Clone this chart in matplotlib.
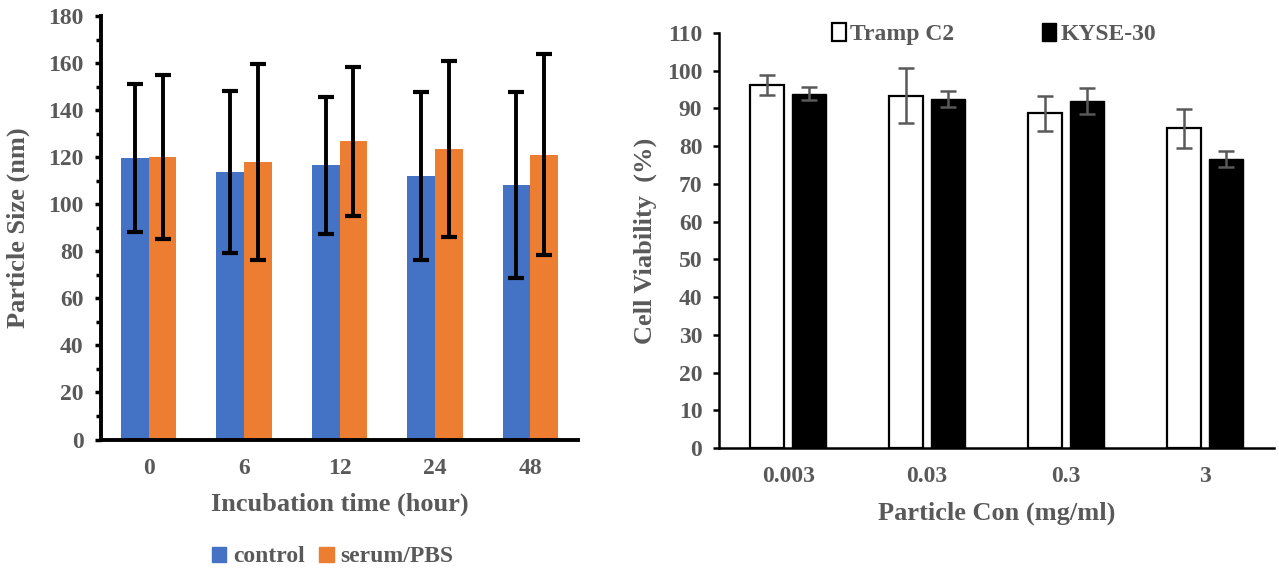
import matplotlib
matplotlib.use('Agg')
import matplotlib.pyplot as plt
import numpy as np
from matplotlib.patches import Patch

# Left panel: particle size over incubation time
TIMES = ['0', '6', '12', '24', '48']
CONTROL = [119.6, 113.6, 116.5, 111.9, 108.1]
CONTROL_ERR = [31.4, 34.4, 29.2, 35.8, 39.6]
SERUM = [120.1, 117.9, 126.7, 123.4, 121.1]
SERUM_ERR = [34.9, 41.5, 31.8, 37.3, 42.7]

# Right panel: cell viability vs particle concentration
CONCS = ['0.003', '0.03', '0.3', '3']
TRAMP = [96.2, 93.4, 88.7, 84.7]
TRAMP_ERR = [2.6, 7.2, 4.7, 5.1]
KYSE = [93.9, 92.5, 91.9, 76.5]
KYSE_ERR = [1.7, 2.2, 3.4, 2.1]

TEXT = '#595959'
W, H = 1279, 573

plt.rcParams['font.family'] = 'Liberation Serif'
plt.rcParams['font.weight'] = 'bold'

fig = plt.figure(figsize=(W / 100, H / 100), dpi=100)


def px_axes(x0, x1, y_top, y_bot):
    return fig.add_axes([x0 / W, 1 - y_bot / H, (x1 - x0) / W, (y_bot - y_top) / H])


# ---------- left panel ----------
ax1 = px_axes(101, 578, 16, 439.5)
x = np.arange(len(TIMES))
bw = 0.29
ax1.bar(x - bw / 2, CONTROL, bw, color='#4472C4', zorder=2)
ax1.bar(x + bw / 2, SERUM, bw, color='#ED7D31', zorder=2)
ax1.errorbar(x - bw / 2, CONTROL, yerr=CONTROL_ERR, fmt='none', ecolor='black',
             elinewidth=2.8, capsize=6, capthick=3, zorder=3)
ax1.errorbar(x + bw / 2, SERUM, yerr=SERUM_ERR, fmt='none', ecolor='black',
             elinewidth=2.8, capsize=6, capthick=3, zorder=3)
ax1.set_xlim(-0.5, 4.5)
ax1.set_ylim(0, 180)
ax1.set_yticks(np.arange(0, 181, 20))
ax1.set_yticks(np.arange(10, 180, 20), minor=True)
ax1.set_xticks(x)
ax1.set_xticklabels(TIMES)
for s in ['top', 'right']:
    ax1.spines[s].set_visible(False)
ax1.spines['left'].set_linewidth(2.8)
ax1.spines['bottom'].set_linewidth(2.8)
ax1.tick_params(axis='y', which='major', length=4.5, width=2.5, pad=8,
                labelsize=17, labelcolor=TEXT)
ax1.tick_params(axis='y', which='minor', length=3.5, width=2.5)
ax1.tick_params(axis='x', length=0, pad=13, labelsize=17, labelcolor=TEXT)
ax1.set_ylabel('Particle Size (nm)', fontsize=19, color=TEXT, fontweight='bold')
ax1.yaxis.set_label_coords(-0.149, 0.5)
ax1.set_xlabel('Incubation time (hour)', fontsize=19, color=TEXT, fontweight='bold')
ax1.xaxis.set_label_coords(0.5, -0.126)
fig.legend(handles=[Patch(color='#4472C4', label='control'),
                    Patch(color='#ED7D31', label='serum/PBS')],
           loc='center', bbox_to_anchor=(333 / W, 1 - 557 / H), ncol=2,
           frameon=False, fontsize=17, labelcolor=TEXT,
           handlelength=0.6, handleheight=0.6, handletextpad=0.3,
           columnspacing=0.6)

# ---------- right panel ----------
ax2 = px_axes(719, 1274, 33, 448)
x2 = np.arange(len(CONCS))
bw2 = 0.245
off = 0.151
ax2.bar(x2 - off, TRAMP, bw2, color='white', edgecolor='black', linewidth=1.6, zorder=2)
ax2.bar(x2 + off, KYSE, bw2, color='black', edgecolor='black', linewidth=1.0, zorder=2)
ax2.errorbar(x2 - off, TRAMP, yerr=TRAMP_ERR, fmt='none', ecolor=TEXT,
             elinewidth=1.8, capsize=6, capthick=1.8, zorder=3)
ax2.errorbar(x2 + off, KYSE, yerr=KYSE_ERR, fmt='none', ecolor=TEXT,
             elinewidth=1.8, capsize=6, capthick=1.8, zorder=3)
ax2.set_xlim(-0.5, 3.5)
ax2.set_ylim(0, 110)
ax2.set_yticks(np.arange(0, 111, 10))
ax2.set_xticks(x2)
ax2.set_xticklabels(CONCS)
for s in ['top', 'right']:
    ax2.spines[s].set_visible(False)
ax2.spines['left'].set_linewidth(1.8)
ax2.spines['bottom'].set_linewidth(1.8)
ax2.tick_params(axis='y', length=4, width=1.8, pad=8, labelsize=17, labelcolor=TEXT)
ax2.tick_params(axis='x', length=0, pad=13, labelsize=17, labelcolor=TEXT)
ax2.set_ylabel('Cell Viability  (%)', fontsize=19, color=TEXT, fontweight='bold')
ax2.yaxis.set_label_coords(-0.112, 0.5)
ax2.set_xlabel('Particle Con (mg/ml)', fontsize=19, color=TEXT, fontweight='bold')
ax2.xaxis.set_label_coords(0.5, -0.128)
ax2.legend(handles=[Patch(facecolor='white', edgecolor='black', linewidth=1.6, label='Tramp C2'),
                    Patch(facecolor='black', edgecolor='black', label='KYSE-30')],
           loc='center', bbox_to_anchor=(994 / W, 1 - 34 / H),
           bbox_transform=fig.transFigure, ncol=2, frameon=False,
           fontsize=17, labelcolor=TEXT, handlelength=0.6, handleheight=0.8,
           handletextpad=0.2, columnspacing=3.7)

fig.savefig('out.png', dpi=100)
